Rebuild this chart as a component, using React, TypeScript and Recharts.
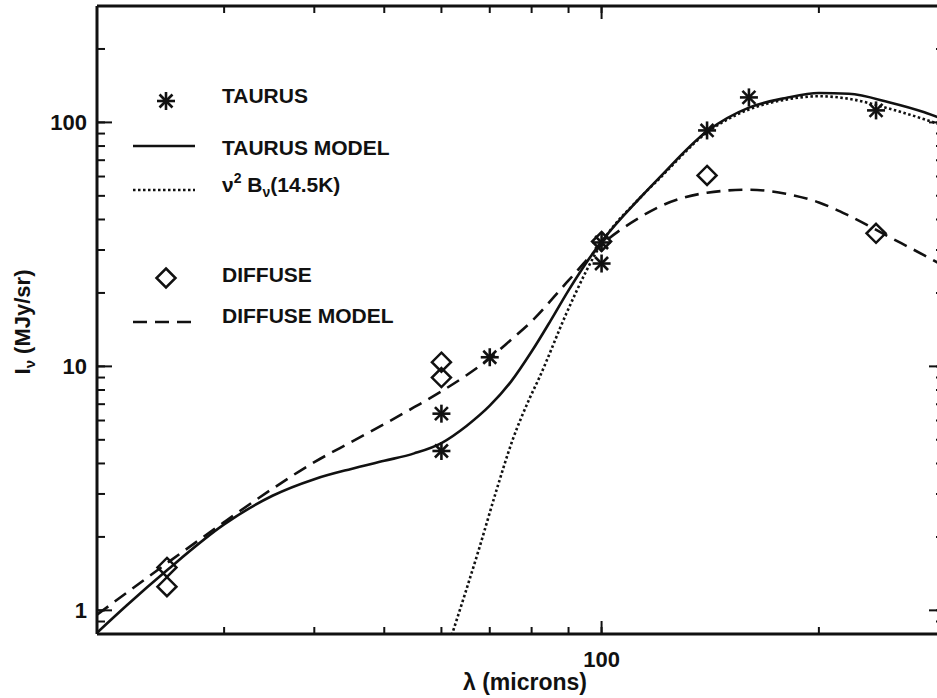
import React from 'react';
import { ComposedChart, Line, Scatter, XAxis, YAxis } from 'recharts';

const FONT = "'Liberation Sans', Arial, sans-serif";
const INK = '#111';

// axis ticks (log axes, decades are long ticks with a label)
const X_TICKS = [20, 30, 40, 50, 60, 70, 80, 90, 100, 200, 300];
const X_MAJOR = [100];
const Y_TICKS = [0.8, 0.9, 1, 2, 3, 4, 5, 6, 7, 8, 9, 10, 20, 30, 40, 50, 60, 70, 80, 90, 100, 200, 300];
const Y_MAJOR = [1, 10, 100];

// measured points
const TAURUS_LAM = [60, 60, 70, 100, 100, 140, 160, 240];
const TAURUS_I = [6.4, 4.5, 10.9, 32.2, 26.4, 92.7, 126.6, 112];
const DIFFUSE_LAM = [25, 25, 60, 60, 100, 140, 240];
const DIFFUSE_I = [1.5, 1.25, 10.4, 9.0, 32.5, 60.6, 35.1];

// model curves
const TAURUS_MODEL_LAM = [20, 22, 25, 30, 35, 40, 45, 50, 55, 60, 65, 70, 75, 80, 85, 90, 95, 100, 113, 120, 140, 160, 180, 200, 220, 250, 280, 300];
const TAURUS_MODEL_I = [0.81, 1.05, 1.46, 2.25, 2.95, 3.45, 3.8, 4.1, 4.4, 4.85, 5.7, 6.9, 8.7, 11.5, 15.4, 20.5, 26.3, 32.5, 49, 59, 92, 115, 126, 132, 131, 121, 110, 102];
const BB_LAM = [62, 67.7, 71.5, 75.3, 79.5, 82, 89.4, 95.3, 100, 113, 120, 140, 160, 180, 200, 220, 250, 280, 300];
const BB_I = [0.79, 1.8, 3.1, 5.0, 7.4, 9.0, 16.5, 24.7, 32, 49, 58.5, 91, 113, 124, 128, 125, 114, 103, 96];
const DIFFUSE_MODEL_LAM = [20, 25, 30, 35, 40, 45, 50, 55, 60, 65, 70, 75, 80, 90, 100, 113, 120, 140, 160, 180, 200, 220, 250, 280, 300];
const DIFFUSE_MODEL_I = [0.96, 1.56, 2.3, 3.15, 4.05, 4.9, 5.8, 6.8, 7.9, 9.2, 10.8, 12.9, 15.3, 22.5, 31.5, 40.8, 45, 51.5, 53, 51, 47, 41.5, 34, 28.5, 25.5];

const toRows = (lam: number[], vals: number[]) => lam.map((l, i) => ({ lam: l, I: vals[i] }));

const taurus = toRows(TAURUS_LAM, TAURUS_I);
const diffuse = toRows(DIFFUSE_LAM, DIFFUSE_I);
const taurusModel = toRows(TAURUS_MODEL_LAM, TAURUS_MODEL_I);
const bbModel = toRows(BB_LAM, BB_I);
const diffuseModel = toRows(DIFFUSE_MODEL_LAM, DIFFUSE_MODEL_I);

const Asterisk = ({ cx, cy, r = 9 }: { cx: number; cy: number; r?: number }) => {
  const d = r * 0.72;
  return (
    <g stroke={INK} strokeWidth={2.6}>
      <line x1={cx} y1={cy - r} x2={cx} y2={cy + r} />
      <line x1={cx - r} y1={cy} x2={cx + r} y2={cy} />
      <line x1={cx - d} y1={cy - d} x2={cx + d} y2={cy + d} />
      <line x1={cx - d} y1={cy + d} x2={cx + d} y2={cy - d} />
    </g>
  );
};

const Diamond = ({ cx, cy, r = 9.5 }: { cx: number; cy: number; r?: number }) => (
  <path
    d={`M${cx},${cy - r} L${cx + r},${cy} L${cx},${cy + r} L${cx - r},${cy} Z`}
    fill="none"
    stroke={INK}
    strokeWidth={2.5}
  />
);

const txt = { fontFamily: FONT, fontWeight: 700, fill: INK };

// tick={false} also drops the tick line, so unlabeled axes get an empty label
const NoLabel = () => <g />;

const BottomLabel = (props: any) => (
  <text x={props.x} y={props.y + 32} textAnchor="middle" fontSize={22} {...txt}>
    {props.payload.value}
  </text>
);

const LeftLabel = (props: any) => (
  <text x={props.x - 9} y={props.y + 8} textAnchor="end" fontSize={22} {...txt}>
    {props.payload.value}
  </text>
);

const frame = { stroke: INK, strokeWidth: 3 };
const tickStroke = { stroke: INK, strokeWidth: 2 };
const logX = { type: 'number' as const, scale: 'log' as const, domain: [20, 300], allowDataOverflow: true, interval: 0, dataKey: 'lam' };
const logY = { type: 'number' as const, scale: 'log' as const, domain: [0.8, 300], allowDataOverflow: true, interval: 0, dataKey: 'I' };

const Overlay = () => (
  <svg width={937} height={698} style={{ position: 'absolute', left: 0, top: 0, pointerEvents: 'none' }}>
    <Asterisk cx={166} cy={101} />
    <text x={222} y={103} fontSize={21} {...txt}>TAURUS</text>
    <line x1={133} y1={146} x2={195} y2={146} stroke={INK} strokeWidth={2.6} />
    <text x={222} y={155} fontSize={21} {...txt}>TAURUS MODEL</text>
    <line x1={133} y1={190} x2={195} y2={190} stroke={INK} strokeWidth={2.6} strokeDasharray="2.5 2.5" />
    <text x={222} y={192} fontSize={21} {...txt}>
      ν<tspan fontSize={14} dy={-9}>2</tspan>
      <tspan dy={9}> B</tspan>
      <tspan fontSize={14} dy={5}>ν</tspan>
      <tspan dy={-5}>(14.5K)</tspan>
    </text>
    <Diamond cx={166} cy={278} />
    <text x={222} y={282} fontSize={21} {...txt}>DIFFUSE</text>
    <line x1={133} y1={322} x2={195} y2={322} stroke={INK} strokeWidth={2.6} strokeDasharray="14 8" />
    <text x={222} y={323} fontSize={21} {...txt}>DIFFUSE MODEL</text>

    <text x={525} y={690} textAnchor="middle" fontSize={23} {...txt}>λ (microns)</text>
    <text transform="translate(30,322) rotate(-90)" textAnchor="middle" fontSize={22} {...txt}>
      I<tspan fontSize={15} dy={5}>ν</tspan>
      <tspan dy={-5}>  (MJy/sr)</tspan>
    </text>
  </svg>
);

export default function App() {
  return (
    <div style={{ position: 'absolute', left: 0, top: 0, width: 937, height: 698, overflow: 'hidden', background: '#fff' }}>
      <ComposedChart width={960} height={698} margin={{ top: 4, right: 12, bottom: 62, left: 95 }}>
        {/* bottom: short ticks everywhere + long decade tick with label */}
        <XAxis xAxisId="b" {...logX} ticks={X_TICKS} height={1} tickSize={-7} tick={NoLabel} tickLine={tickStroke} axisLine={frame} />
        <XAxis xAxisId="bm" {...logX} ticks={X_MAJOR} height={1} tickSize={-14} tickMargin={14} tick={BottomLabel} tickLine={tickStroke} axisLine={false} />
        {/* top mirror */}
        <XAxis xAxisId="t" orientation="top" {...logX} ticks={X_TICKS} height={1} tickSize={-7} tick={NoLabel} tickLine={tickStroke} axisLine={frame} />
        <XAxis xAxisId="tm" orientation="top" {...logX} ticks={X_MAJOR} height={1} tickSize={-14} tick={NoLabel} tickLine={tickStroke} axisLine={false} />
        {/* left */}
        <YAxis yAxisId="l" {...logY} ticks={Y_TICKS} width={1} tickSize={-8} tick={NoLabel} tickLine={tickStroke} axisLine={frame} />
        <YAxis yAxisId="lm" {...logY} ticks={Y_MAJOR} width={1} tickSize={-16} tickMargin={16} tick={LeftLabel} tickLine={tickStroke} axisLine={false} />
        {/* right mirror */}
        <YAxis yAxisId="r" orientation="right" {...logY} ticks={Y_TICKS} width={1} tickSize={-10} tick={NoLabel} tickLine={tickStroke} axisLine={frame} />
        <YAxis yAxisId="rm" orientation="right" {...logY} ticks={Y_MAJOR} width={1} tickSize={-18} tick={NoLabel} tickLine={tickStroke} axisLine={false} />

        {/* invisible series so every axis is bound */}
        <Line xAxisId="bm" yAxisId="lm" data={taurusModel} dataKey="I" stroke="none" dot={false} isAnimationActive={false} />
        <Line xAxisId="t" yAxisId="r" data={taurusModel} dataKey="I" stroke="none" dot={false} isAnimationActive={false} />
        <Line xAxisId="tm" yAxisId="rm" data={taurusModel} dataKey="I" stroke="none" dot={false} isAnimationActive={false} />

        <Line xAxisId="b" yAxisId="l" data={diffuseModel} dataKey="I" type="monotone" stroke={INK} strokeWidth={2.6} strokeDasharray="14 8" dot={false} isAnimationActive={false} />
        <Line xAxisId="b" yAxisId="l" data={bbModel} dataKey="I" type="monotone" stroke={INK} strokeWidth={2.6} strokeDasharray="2.5 2.5" dot={false} isAnimationActive={false} />
        <Line xAxisId="b" yAxisId="l" data={taurusModel} dataKey="I" type="monotone" stroke={INK} strokeWidth={2.6} dot={false} isAnimationActive={false} />

        <Scatter xAxisId="b" yAxisId="l" data={diffuse} dataKey="I" isAnimationActive={false} shape={(p: any) => <Diamond cx={p.cx} cy={p.cy} />} />
        <Scatter xAxisId="b" yAxisId="l" data={taurus} dataKey="I" isAnimationActive={false} shape={(p: any) => <Asterisk cx={p.cx} cy={p.cy} />} />
      </ComposedChart>
      <Overlay />
    </div>
  );
}
